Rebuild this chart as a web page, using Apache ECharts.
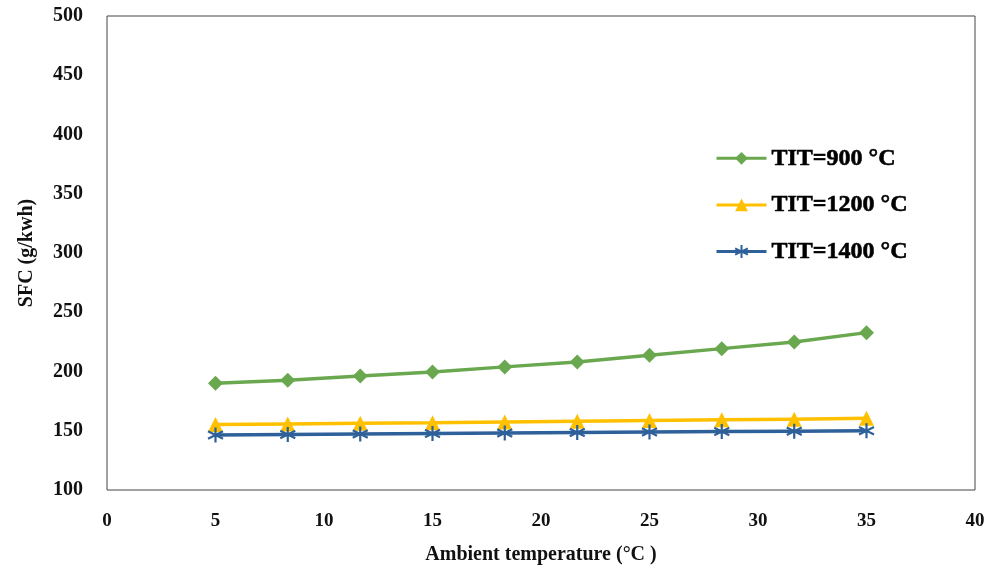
<!DOCTYPE html>
<html>
<head>
<meta charset="utf-8">
<script src="https://cdn.jsdelivr.net/npm/echarts@6/dist/echarts.min.js"></script>
<style>
  html, body { margin: 0; padding: 0; background: #fff; }
  #main { width: 1000px; height: 570px; }
</style>
</head>
<body>
<div id="main"></div>
<script>
// ambient temperature (°C)
var ambientTemp = [5, 8.33, 11.67, 15, 18.33, 21.67, 25, 28.33, 31.67, 35];
// SFC (g/kwh) for each turbine inlet temperature
var sfc900 = [190, 192.6, 196.3, 199.6, 203.9, 208.1, 213.7, 219.3, 224.9, 232.8];
var sfc1200 = [155.3, 155.8, 156.3, 156.8, 157.4, 158, 158.6, 159.2, 159.8, 160.5];
var sfc1400 = [146.5, 146.9, 147.3, 147.7, 148.1, 148.5, 148.9, 149.3, 149.6, 150];
var seriesNames = ['TIT=900 °C', 'TIT=1200 °C', 'TIT=1400 °C'];

var chart = echarts.init(document.getElementById('main'));

function pairs(xs, ys) {
    return xs.map(function (x, i) { return [x, ys[i]]; });
}

var font = 'Liberation Serif';
var asterisk = 'path://M0,-10L0,10M-8.66,-5L8.66,5M-8.66,5L8.66,-5';

var option = {
    animation: false,
    backgroundColor: '#fff',
    grid: {
        left: 107, right: 25, top: 16, bottom: 80,
        outerBoundsMode: 'none',
        containLabel: false,
        show: true,
        borderColor: '#444',
        borderWidth: 1
    },
    legend: {
        orient: 'vertical',
        left: 710,
        top: 141,
        itemGap: 22,
        itemWidth: 50,
        itemHeight: 16,
        data: seriesNames,
        lineStyle: { width: 3 },
        textStyle: {
            fontFamily: 'Liberation Serif, serif',
            fontWeight: 900,
            fontSize: 24,
            color: '#000',
            textBorderColor: '#000',
            textBorderWidth: 0.6
        }
    },
    xAxis: {
        type: 'value',
        min: 0, max: 40, interval: 5,
        name: 'Ambient temperature (°C )',
        nameLocation: 'middle',
        nameGap: 55,
        nameTextStyle: { fontFamily: font, fontWeight: 'bold', fontSize: 20, color: '#111' },
        axisLine: { show: false },
        axisTick: { show: false },
        splitLine: { show: false },
        axisLabel: { margin: 22, fontFamily: font, fontWeight: 'bold', fontSize: 19, color: '#111' }
    },
    yAxis: {
        type: 'value',
        min: 100, max: 500, interval: 50,
        name: 'SFC (g/kwh)',
        nameLocation: 'middle',
        nameGap: 70,
        nameTextStyle: { fontFamily: font, fontWeight: 'bold', fontSize: 20, color: '#111' },
        axisLine: { show: false },
        axisTick: { show: false },
        splitLine: { show: false },
        axisLabel: { margin: 24, fontFamily: font, fontWeight: 'bold', fontSize: 20, color: '#111' }
    },
    series: [
        {
            name: seriesNames[0],
            type: 'line',
            data: pairs(ambientTemp, sfc900),
            symbol: 'diamond',
            symbolSize: 15,
            lineStyle: { color: '#6aa84f', width: 3.5 },
            itemStyle: { color: '#6aa84f' }
        },
        {
            name: seriesNames[1],
            type: 'line',
            data: pairs(ambientTemp, sfc1200),
            symbol: 'triangle',
            symbolSize: 15,
            lineStyle: { color: '#ffc000', width: 3.5 },
            itemStyle: { color: '#ffc000' }
        },
        {
            name: seriesNames[2],
            type: 'line',
            data: pairs(ambientTemp, sfc1400),
            symbol: asterisk,
            symbolSize: 15,
            lineStyle: { color: '#2e6099', width: 3.5 },
            itemStyle: { color: 'transparent', borderColor: '#2e6099', borderWidth: 2.2 }
        }
    ]
};

chart.setOption(option);
window.addEventListener('resize', function () {
    chart.resize();
});
</script>
</body>
</html>
